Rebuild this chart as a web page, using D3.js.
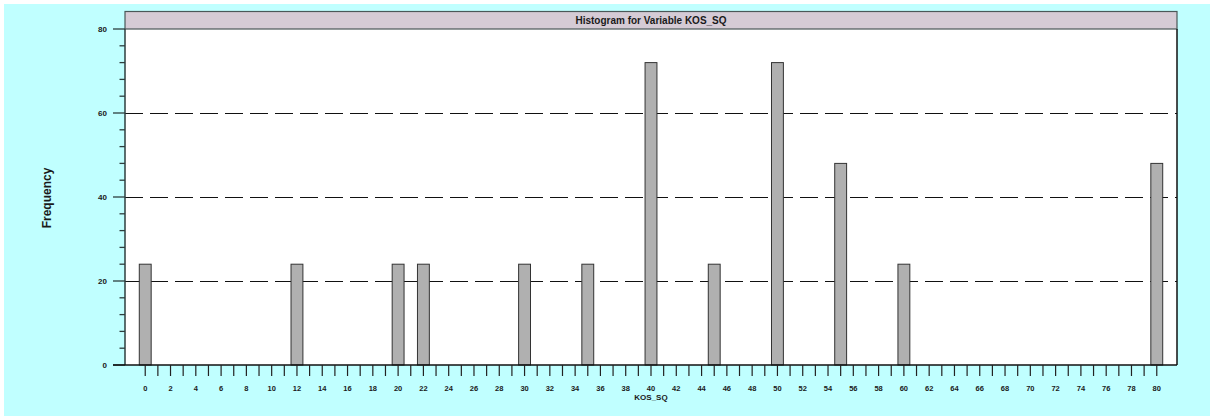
<!DOCTYPE html>
<html>
<head>
<meta charset="utf-8">
<script src="https://cdn.jsdelivr.net/npm/d3@7"></script>
<style>
  html, body { margin: 0; padding: 0; background: #ffffff; }
  svg { display: block; }
  text { font-family: "Liberation Sans", Arial, sans-serif; font-weight: bold; fill: #1a1a1a; }
</style>
</head>
<body>
<svg id="chart" width="1210" height="416"></svg>
<script>
// Histogram data: observed values of KOS_SQ and their counts
const binValues = [0, 12, 20, 22, 30, 35, 40, 45, 50, 55, 60, 80];
const frequencies = [24, 24, 24, 24, 24, 24, 72, 24, 72, 48, 24, 48];
const xTickValues = d3.range(0, 81, 1);
const xLabelValues = d3.range(0, 81, 2);
const yTickValues = d3.range(0, 81, 4);
const yLabelValues = [0, 20, 40, 60, 80];
const gridValues = [20, 40, 60];
const chartTitle = "Histogram for Variable KOS_SQ";
const xTitle = "KOS_SQ";
const yTitle = "Frequency";

const svg = d3.select("#chart");

// page background
svg.append("rect").attr("x", 4).attr("y", 4).attr("width", 1206).attr("height", 412).attr("fill", "#c0ffff");

const plot = { left: 125, right: 1177, top: 29, bottom: 365 };

const x = d3.scaleLinear().domain([-1.6, 81.6]).range([plot.left, plot.right]);
const y = d3.scaleLinear().domain([0, 80]).range([plot.bottom, plot.top]);

// plot area
svg.append("rect")
  .attr("x", plot.left).attr("y", plot.top)
  .attr("width", plot.right - plot.left).attr("height", plot.bottom - plot.top)
  .attr("fill", "#ffffff");

// title bar
svg.append("rect")
  .attr("x", plot.left).attr("y", 11.5)
  .attr("width", plot.right - plot.left).attr("height", plot.top - 11.5)
  .attr("fill", "#d5cbd5").attr("stroke", "#4a5858").attr("stroke-width", 1.2);
svg.append("text")
  .attr("x", (plot.left + plot.right) / 2).attr("y", 23.5)
  .attr("text-anchor", "middle").attr("font-size", 10)
  .text(chartTitle);

// dashed reference lines
svg.append("g").selectAll("line").data(gridValues).join("line")
  .attr("x1", plot.left).attr("x2", plot.right)
  .attr("y1", d => y(d) + 0.5).attr("y2", d => y(d) + 0.5)
  .attr("stroke", "#111").attr("stroke-width", 1.2)
  .attr("stroke-dasharray", "18,7");

// bars
const barHalf = 0.47;
svg.append("g").selectAll("rect").data(binValues.map((v, i) => ({ v, f: frequencies[i] }))).join("rect")
  .attr("x", d => x(d.v - barHalf))
  .attr("y", d => y(d.f))
  .attr("width", d => x(d.v + barHalf) - x(d.v - barHalf))
  .attr("height", d => y(0) - y(d.f))
  .attr("fill", "#b0b0b0")
  .attr("stroke", "#333").attr("stroke-width", 1);

// right frame edge
svg.append("line")
  .attr("x1", plot.right).attr("x2", plot.right)
  .attr("y1", plot.top).attr("y2", plot.bottom)
  .attr("stroke", "#111").attr("stroke-width", 1.5);

// y axis
const yAxis = svg.append("g");
yAxis.append("line")
  .attr("x1", plot.left).attr("x2", plot.left)
  .attr("y1", plot.top).attr("y2", plot.bottom)
  .attr("stroke", "#2e3e3e").attr("stroke-width", 1.5);
yAxis.selectAll("line.tick").data(yTickValues).join("line")
  .attr("class", "tick")
  .attr("x1", d => yLabelValues.includes(d) ? 113 : 119.5).attr("x2", plot.left)
  .attr("y1", d => y(d)).attr("y2", d => y(d))
  .attr("stroke", "#2e3e3e").attr("stroke-width", 1.3);
yAxis.selectAll("text").data(yLabelValues).join("text")
  .attr("x", 107).attr("y", d => y(d) + 2.8)
  .attr("text-anchor", "end").attr("font-size", 8)
  .text(d => d);

// x axis
const xAxis = svg.append("g");
xAxis.append("line")
  .attr("x1", 113).attr("x2", plot.right)
  .attr("y1", plot.bottom).attr("y2", plot.bottom)
  .attr("stroke", "#111").attr("stroke-width", 1.5);
xAxis.selectAll("line.tick").data(xTickValues).join("line")
  .attr("class", "tick")
  .attr("x1", d => x(d)).attr("x2", d => x(d))
  .attr("y1", plot.bottom).attr("y2", 376)
  .attr("stroke", "#222").attr("stroke-width", 1.2);
xAxis.selectAll("text").data(xLabelValues).join("text")
  .attr("x", d => x(d)).attr("y", 390.5)
  .attr("text-anchor", "middle").attr("font-size", 7.5)
  .text(d => d);

// axis titles
svg.append("text")
  .attr("x", (plot.left + plot.right) / 2).attr("y", 400)
  .attr("text-anchor", "middle").attr("font-size", 8)
  .text(xTitle);
svg.append("text")
  .attr("transform", "translate(51,198) rotate(-90)")
  .attr("text-anchor", "middle").attr("font-size", 12)
  .text(yTitle);
</script>
</body>
</html>
